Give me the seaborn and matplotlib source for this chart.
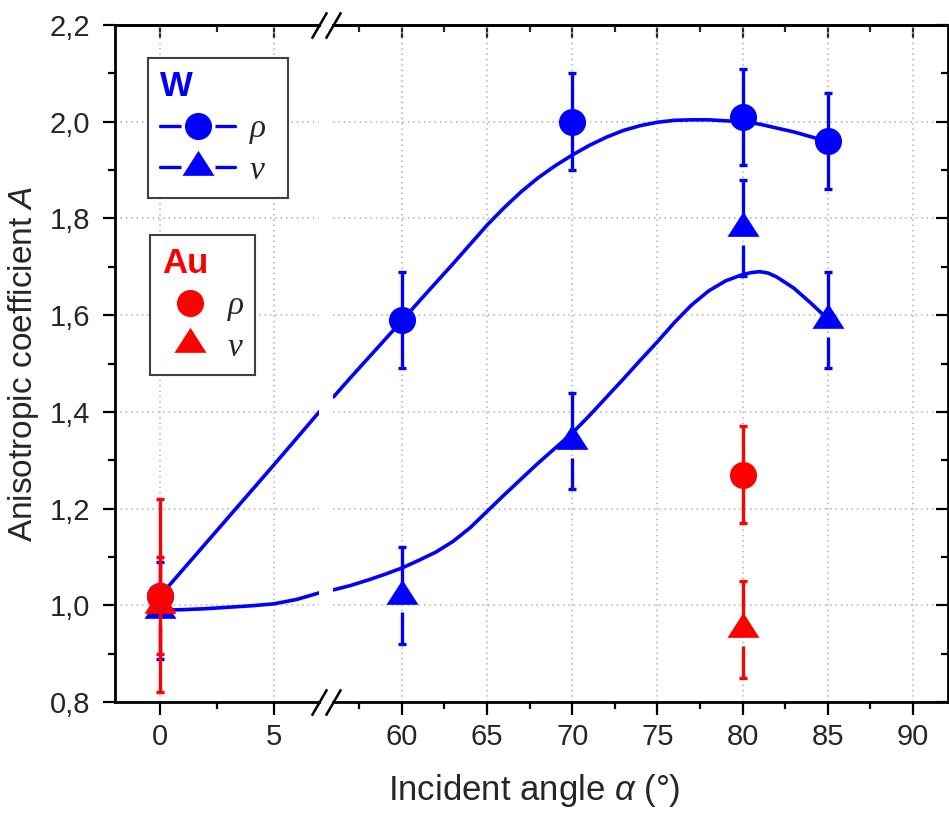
import numpy as np
import pandas as pd
import matplotlib
matplotlib.use("Agg")
import matplotlib.pyplot as plt
import seaborn as sns
from matplotlib.lines import Line2D
from matplotlib.ticker import FixedLocator, MultipleLocator

# measured anisotropy, W target
angle_w = [0, 60, 70, 80, 85]
w_rho = [1.02, 1.59, 2.00, 2.01, 1.96]
w_rho_err = [0.01, 0.10, 0.10, 0.10, 0.10]
w_nu = [0.99, 1.02, 1.34, 1.78, 1.59]
w_nu_err = [0.10, 0.10, 0.10, 0.10, 0.10]

# measured anisotropy, Au target
angle_au = [0, 80]
au_rho = [1.02, 1.27]
au_rho_err = [0.20, 0.10]
au_nu = [1.00, 0.95]
au_nu_err = [0.10, 0.10]

# guide-to-the-eye curves for W
fit_rho_x = [0, 2.5, 5, 7.1,
             56, 57, 58, 59, 60, 61, 62, 63, 64, 65, 66, 67, 68, 69, 70,
             71, 72, 73, 74, 75, 76, 77, 78, 79, 80, 81, 82, 83, 84, 85]
fit_rho_y = [1.02, 1.155, 1.29, 1.405,
             1.431, 1.471, 1.510, 1.549, 1.588, 1.628, 1.667, 1.706, 1.746, 1.786,
             1.822, 1.855, 1.884, 1.909, 1.931, 1.951, 1.968, 1.982, 1.992, 1.999,
             2.003, 2.004, 2.004, 2.002, 2.000, 1.995, 1.987, 1.979, 1.969, 1.959]
fit_nu_x = [0, 1, 2, 3, 4, 5, 6, 7.1,
            56, 57, 58, 59, 60, 61, 62, 63, 64, 65, 66, 67, 68, 69, 70, 71, 72, 73,
            74, 75, 76, 77, 78, 79, 80, 80.5, 81, 81.5, 82, 83, 84, 85]
fit_nu_y = [0.99, 0.991, 0.993, 0.996, 0.999, 1.003, 1.012, 1.027,
            1.032, 1.041, 1.052, 1.064, 1.077, 1.093, 1.110, 1.132, 1.160, 1.194,
            1.228, 1.261, 1.294, 1.325, 1.356, 1.392, 1.430, 1.468, 1.507, 1.545,
            1.585, 1.621, 1.650, 1.671, 1.684, 1.688, 1.690, 1.687, 1.679, 1.656,
            1.625, 1.592]

y_ticks = [0.8, 1.0, 1.2, 1.4, 1.6, 1.8, 2.0, 2.2]
y_tick_labels = ["0,8", "1,0", "1,2", "1,4", "1,6", "1,8", "2,0", "2,2"]
x_ticks_left = [0, 5]
x_ticks_right = [60, 65, 70, 75, 80, 85, 90]

BLUE = "#0000ff"
RED = "#ff0000"
TRI = [(0, 1), (-0.96, -0.5), (0.96, -0.5), (0, 1)]  # centred on centroid
CIRCLE_MS = 19.5
TRI_MS = 24

sns.set_style("ticks")
plt.rcParams["font.family"] = ["Liberation Sans", "DejaVu Sans"]
plt.rcParams["mathtext.fontset"] = "custom"
plt.rcParams["mathtext.rm"] = "Liberation Sans"
plt.rcParams["mathtext.it"] = "Liberation Sans:italic"
plt.rcParams["lines.solid_joinstyle"] = "round"

fig = plt.figure(figsize=(9.49, 8.13), dpi=100)
y0, h = 0.1365, 0.8327
ax_l = fig.add_axes([0.1212, y0, 0.2150, h])
ax_r = fig.add_axes([0.3504, y0, 0.6486, h])
ax_l.set_xlim(-2.0, 7.0)
ax_r.set_xlim(55.94, 92.05)


def style_axes(ax, major, side):
    ax.set_ylim(0.8, 2.2)
    ax.yaxis.set_major_locator(FixedLocator(y_ticks))
    ax.yaxis.set_minor_locator(MultipleLocator(0.1))
    ax.xaxis.set_major_locator(FixedLocator(major))
    ax.xaxis.set_minor_locator(MultipleLocator(2.5))
    ax.grid(True, which="major", ls=(0, (1, 2.5)), color="#b0b0b0", lw=1.1)
    ax.set_axisbelow(True)
    for s in ax.spines.values():
        s.set_linewidth(2)
        s.set_color("black")
    ax.tick_params(which="major", length=9, width=1.6, color="black")
    ax.tick_params(which="minor", length=5, width=1.6, color="black")
    ax.tick_params(axis="x", which="both", direction="out", labelsize=21, pad=6)
    ax.set_xticklabels([str(t) for t in major])
    top = ax.secondary_xaxis("top")
    top.xaxis.set_major_locator(FixedLocator(major))
    top.xaxis.set_minor_locator(MultipleLocator(2.5))
    top.tick_params(which="major", length=9, width=1.6, direction="in", labeltop=False)
    top.tick_params(which="minor", length=5, width=1.6, direction="in")
    top.spines["top"].set_linewidth(2)
    if side == "left":
        ax.spines["right"].set_visible(False)
        ax.tick_params(axis="y", which="both", direction="out", right=False, labelsize=21, pad=9)
        ax.set_yticklabels(y_tick_labels)
    else:
        ax.spines["left"].set_visible(False)
        ax.tick_params(axis="y", which="both", direction="in", left=False, right=True,
                       labelleft=False)


style_axes(ax_l, x_ticks_left, "left")
style_axes(ax_r, x_ticks_right, "right")


def draw_points(ax, x, y, err, color, marker, ms, z, gap=False):
    x = np.asarray(x, float)
    y = np.asarray(y, float)
    err = np.asarray(err, float)
    lo = y.copy()
    if gap:
        # Origin style: lower bar starts below the marker's circumradius
        px_per_unit = ax.transData.transform((0, 1))[1] - ax.transData.transform((0, 0))[1]
        lo = y - (ms / 2 * fig.dpi / 72) / px_per_unit
    ax.vlines(x, y, y + err, color=color, lw=2.4, zorder=z)
    ax.vlines(x, y - err, lo, color=color, lw=2.4, zorder=z)
    ax.plot(x, y + err, ls="none", marker="_", ms=6, mew=2.4, color=color, zorder=z)
    ax.plot(x, y - err, ls="none", marker="_", ms=6, mew=2.4, color=color, zorder=z)
    ax.plot(x, y, ls="none", marker=marker, ms=ms, color=color, mew=0, zorder=z + 0.5)


rho_fit = pd.DataFrame({"angle": fit_rho_x, "A": fit_rho_y})
nu_fit = pd.DataFrame({"angle": fit_nu_x, "A": fit_nu_y})
w_df = pd.DataFrame({"angle": angle_w, "rho": w_rho, "rho_err": w_rho_err,
                     "nu": w_nu, "nu_err": w_nu_err})
au_df = pd.DataFrame({"angle": angle_au, "rho": au_rho, "rho_err": au_rho_err,
                      "nu": au_nu, "nu_err": au_nu_err})

for ax, pick in ((ax_l, lambda d: d[d.angle < 30]), (ax_r, lambda d: d[d.angle > 30])):
    for fit in (rho_fit, nu_fit):
        sns.lineplot(data=pick(fit), x="angle", y="A", ax=ax, color=BLUE, lw=2.6,
                     sort=False, estimator=None, zorder=3)
    w = pick(w_df)
    au = pick(au_df)
    draw_points(ax, w.angle, w.rho, w.rho_err, BLUE, "o", CIRCLE_MS, 4)
    draw_points(ax, w.angle, w.nu, w.nu_err, BLUE, TRI, TRI_MS, 5, gap=True)
    if len(au):
        draw_points(ax, au.angle, au.rho, au.rho_err, RED, "o", CIRCLE_MS, 6)
        draw_points(ax, au.angle, au.nu, au.nu_err, RED, TRI, TRI_MS, 7, gap=True)
    ax.set_xlabel("")
    ax.set_ylabel("")

ax_l.set_ylabel("Anisotropic coefficient $A$", fontsize=24, labelpad=6)
fig.text(0.563, 0.028, r"Incident angle $\alpha$ (°)", fontsize=25, ha="center", va="center")

# axis break marks
brk = dict(marker=[(-0.58, -1), (0.58, 1)], markersize=19, linestyle="none", color="k",
           mec="k", mew=1.8, clip_on=False, zorder=20)
ax_l.plot([1, 1], [0, 1], transform=ax_l.transAxes, **brk)
ax_r.plot([0, 0], [0, 1], transform=ax_r.transAxes, **brk)


def handle(color, marker, ms, with_line):
    parts = []
    if with_line:
        parts.append(Line2D([], [], color=color, lw=2.4))
        parts.append(Line2D([], [], ls="none", marker="o", ms=24.5, mfc="white", mec="none"))
    parts.append(Line2D([], [], ls="none", marker=marker, ms=ms, color=color, mew=0))
    return tuple(parts)


label_font = {"family": "Liberation Serif", "style": "italic", "size": 24}
for name, color, lines, anchor, hl, pad in (
        ("W", BLUE, True, (0.156, 0.9287, 0.147, 0), 2.25, 0.45),
        ("Au", RED, False, (0.158, 0.7110, 0.111, 0), 1.67, 0.3)):
    leg = fig.legend([handle(color, "o", CIRCLE_MS, lines), handle(color, TRI, TRI_MS, lines)],
                     ["ρ", "ν"], loc="upper left", bbox_to_anchor=anchor, mode="expand",
                     bbox_transform=fig.transFigure, prop=label_font, title=name,
                     title_fontproperties={"weight": "bold", "size": 25, "family": "Liberation Sans"},
                     alignment="left", handlelength=hl, handletextpad=pad, borderpad=0.36,
                     labelspacing=0.33, fancybox=False, framealpha=1, borderaxespad=0)
    leg.get_title().set_color(color)
    leg.get_frame().set_edgecolor("#404040")
    leg.get_frame().set_linewidth(1.5)
    leg.set_zorder(30)

fig.savefig("out.png", dpi=100)
